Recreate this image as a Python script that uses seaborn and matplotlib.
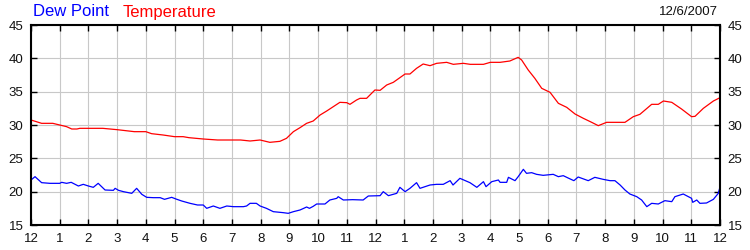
import matplotlib
matplotlib.use('Agg')
import matplotlib.pyplot as plt
import seaborn as sns
import pandas as pd

# ---- data (hours since midnight) ----
temp_hours = [0, 0.37, 0.76, 1.0, 1.24, 1.42, 1.6, 1.7, 2.5, 3.0,
              3.6, 4.0, 4.2, 4.6, 5.0, 5.3, 5.5, 6.0, 6.5, 7.3,
              7.63, 7.98, 8.32, 8.67, 8.9, 9.14, 9.37, 9.6, 9.83, 10.07,
              10.3, 10.53, 10.76, 11.0, 11.11, 11.34, 11.46, 11.69, 11.98, 12.16,
              12.39, 12.62, 12.85, 13.03, 13.2, 13.43, 13.66, 13.9, 14.13, 14.48,
              14.71, 15.06, 15.3, 15.76, 16.0, 16.34, 16.68, 16.97, 17.09, 17.32,
              17.55, 17.79, 18.08, 18.37, 18.66, 18.95, 19.24, 19.53, 19.76, 20.05,
              20.34, 20.69, 20.98, 21.21, 21.62, 21.85, 22.03, 22.32, 22.66, 23.01,
              23.13, 23.42, 23.77, 24.0]
temp_values = [30.75, 30.25, 30.25, 30.0, 29.75, 29.4, 29.4, 29.5, 29.5, 29.3,
               29.0, 29.0, 28.7, 28.5, 28.25, 28.25, 28.1, 27.9, 27.75, 27.75,
               27.6, 27.75, 27.4, 27.55, 28.0, 29.0, 29.6, 30.25, 30.6, 31.5,
               32.1, 32.75, 33.4, 33.35, 33.1, 33.75, 34.0, 34.0, 35.25, 35.2,
               36.0, 36.4, 37.1, 37.65, 37.65, 38.5, 39.15, 38.9, 39.25, 39.4,
               39.1, 39.25, 39.1, 39.1, 39.4, 39.4, 39.6, 40.15, 39.75, 38.25,
               37.0, 35.5, 34.9, 33.25, 32.65, 31.65, 31.0, 30.4, 29.9, 30.4,
               30.4, 30.4, 31.25, 31.6, 33.1, 33.1, 33.6, 33.4, 32.4, 31.25,
               31.3, 32.5, 33.6, 34.1]

dew_hours = [0, 0.14, 0.37, 0.66, 1.0, 1.07, 1.24, 1.4, 1.65, 1.82,
             2.0, 2.17, 2.34, 2.58, 2.87, 2.93, 3.05, 3.22, 3.51, 3.68,
             3.86, 4.03, 4.26, 4.5, 4.65, 4.9, 5.05, 5.25, 5.54, 5.8,
             6.0, 6.12, 6.35, 6.58, 6.82, 7.05, 7.4, 7.51, 7.63, 7.85,
             7.98, 8.2, 8.44, 8.79, 8.96, 9.14, 9.37, 9.5, 9.6, 9.7,
             9.83, 9.95, 10.24, 10.41, 10.65, 10.7, 10.88, 11.2, 11.57, 11.75,
             12.16, 12.27, 12.45, 12.74, 12.85, 13.03, 13.2, 13.43, 13.55, 13.9,
             14.13, 14.36, 14.6, 14.7, 14.94, 15.29, 15.53, 15.76, 15.85, 16.05,
             16.28, 16.34, 16.57, 16.63, 16.86, 16.97, 17.15, 17.26, 17.44, 17.61,
             17.84, 18.19, 18.37, 18.54, 18.71, 18.91, 19.06, 19.41, 19.64, 19.93,
             20.17, 20.34, 20.52, 20.69, 20.86, 21.1, 21.27, 21.45, 21.62, 21.85,
             22.08, 22.32, 22.43, 22.72, 23.01, 23.05, 23.19, 23.3, 23.53, 23.77,
             23.94, 24.0]
dew_values = [21.75, 22.25, 21.35, 21.25, 21.25, 21.4, 21.25, 21.4, 20.85, 21.1,
              20.85, 20.65, 21.25, 20.25, 20.2, 20.5, 20.2, 20.0, 19.75, 20.5,
              19.6, 19.15, 19.1, 19.1, 18.85, 19.15, 18.9, 18.6, 18.25, 18.0,
              18.0, 17.5, 17.85, 17.5, 17.85, 17.75, 17.75, 17.85, 18.25, 18.25,
              17.85, 17.5, 17.0, 16.85, 16.75, 17.0, 17.25, 17.5, 17.7, 17.5,
              17.8, 18.15, 18.15, 18.75, 19.0, 19.25, 18.75, 18.8, 18.75, 19.35,
              19.4, 20.0, 19.4, 19.75, 20.65, 20.0, 20.5, 21.35, 20.5, 21.0,
              21.1, 21.1, 21.65, 21.0, 22.0, 21.35, 20.65, 21.5, 20.75, 21.5,
              21.75, 21.4, 21.4, 22.15, 21.65, 22.25, 23.35, 22.75, 22.85, 22.6,
              22.45, 22.6, 22.25, 22.4, 22.05, 21.65, 22.2, 21.65, 22.15, 21.85,
              21.65, 21.65, 21.0, 20.25, 19.65, 19.25, 18.75, 17.75, 18.25, 18.15,
              18.65, 18.5, 19.25, 19.65, 19.0, 18.4, 18.75, 18.25, 18.3, 18.85,
              19.75, 20.7]

x_tick_labels = ['12', '1', '2', '3', '4', '5', '6', '7', '8', '9', '10', '11',
                 '12', '1', '2', '3', '4', '5', '6', '7', '8', '9', '10', '11', '12']
y_ticks = [15, 20, 25, 30, 35, 40, 45]
date_label = '12/6/2007'

# ---- plot ----
sns.set_style('white')
plt.rcParams['font.family'] = ['Liberation Sans', 'DejaVu Sans']

temp_df = pd.DataFrame({'hour': temp_hours, 'value': temp_values})
dew_df = pd.DataFrame({'hour': dew_hours, 'value': dew_values})

fig = plt.figure(figsize=(7.5, 2.5), dpi=100)
ax = fig.add_axes([31 / 750, 25 / 250, 689 / 750, 200 / 250])

sns.lineplot(data=temp_df, x='hour', y='value', color='#ff0000', lw=0.9,
             ax=ax, estimator=None, sort=False)
sns.lineplot(data=dew_df, x='hour', y='value', color='#0000ff', lw=0.9,
             ax=ax, estimator=None, sort=False)

ax.set_xlim(0, 24)
ax.set_ylim(15, 45)
ax.set_xticks(range(25))
ax.set_xticklabels(x_tick_labels)
ax.set_yticks(y_ticks)
ax.set_xlabel('')
ax.set_ylabel('')
ax.grid(True, color='#c8c8c8', lw=0.8)
ax.set_axisbelow(True)
ax.tick_params(axis='both', direction='in', length=4, width=1, color='black',
               labelsize=9.5, labelcolor='#111111')
ax.tick_params(axis='x', top=True, bottom=True, pad=5.5)
ax.tick_params(axis='y', left=True, right=True, labelleft=True, labelright=True, pad=5.5)
for s in ax.spines.values():
    s.set_visible(True)
    s.set_color('black')
    s.set_linewidth(1.5)

fig.text(33 / 750, 1 - 12 / 250, 'Dew Point', color='#0000ff', fontsize=12, va='center', ha='left')
fig.text(123 / 750, 1 - 12 / 250, 'Temperature', color='#ff0000', fontsize=12, va='center', ha='left')
fig.text(718 / 750, 1 - 12 / 250, date_label, color='#111111', fontsize=9.5, va='center', ha='right')

fig.savefig('out.png', dpi=100)
